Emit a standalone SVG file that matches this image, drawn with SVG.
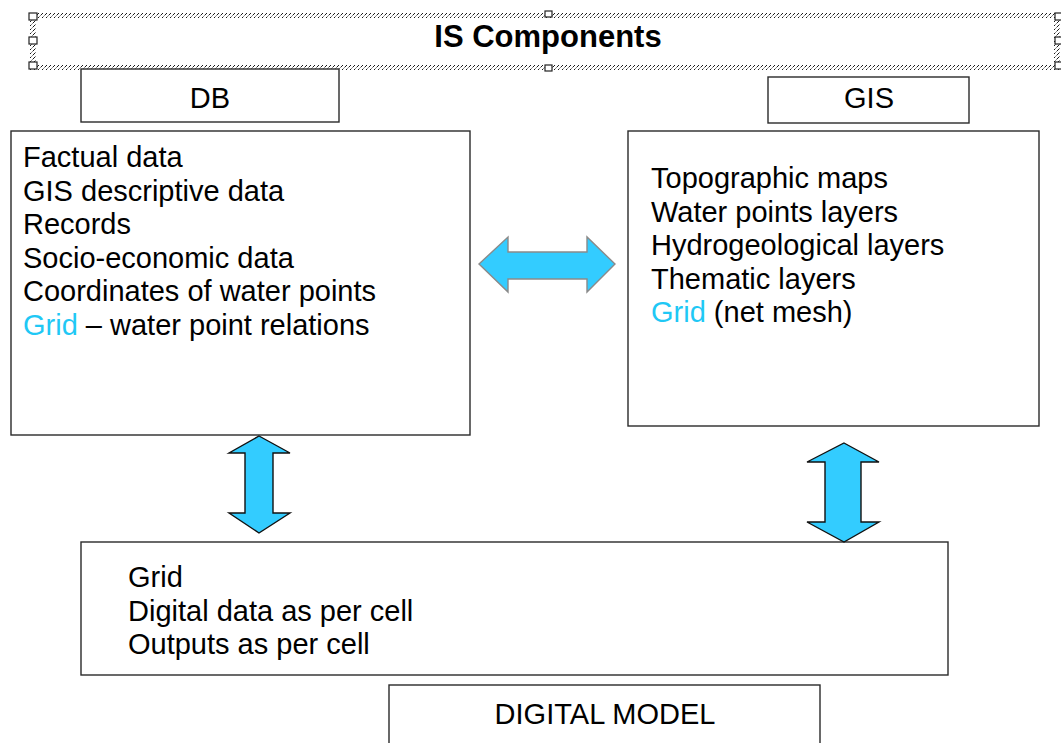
<svg xmlns="http://www.w3.org/2000/svg" width="1061" height="743" viewBox="0 0 1061 743">
  <style>
    .box { fill: #ffffff; stroke: #2a2a2a; stroke-width: 1.4; }
    .txt { font-family: "Liberation Sans", Arial, sans-serif; font-size: 29px; fill: #000000; }
    .title { font-family: "Liberation Sans", Arial, sans-serif; font-size: 31px; font-weight: bold; fill: #000000; }
    .hl { fill: #1fc8f5; }
    .handle { fill: #ffffff; stroke: #222222; stroke-width: 1.2; }
    .arrow-h { fill: #33ccff; stroke: #8a8a8a; stroke-width: 1.4; stroke-linejoin: miter; }
    .arrow-v { fill: #33ccff; stroke: #111111; stroke-width: 1.4; stroke-linejoin: miter; }
  </style>
  <defs>
    <!-- diagonal hatching used for the selected-frame border of the title -->
    <pattern id="hatch" width="4" height="4" patternUnits="userSpaceOnUse">
      <rect width="4" height="4" fill="#ffffff"/>
      <path d="M0.5,3.5 L3.5,0.5" stroke="#1a1a1a" stroke-width="1"/>
    </pattern>
  </defs>

  <rect width="1061" height="743" fill="#ffffff"/>

  <!-- Title frame -->
  <g id="title">
    <rect x="33" y="13" width="1024" height="5" fill="url(#hatch)"/>
    <rect x="33" y="65" width="1024" height="5" fill="url(#hatch)"/>
    <rect x="30" y="13" width="6" height="57" fill="url(#hatch)"/>
    <rect x="1054" y="13" width="6" height="57" fill="url(#hatch)"/>
    <rect class="handle" x="29" y="13" width="8" height="7"/>
    <rect class="handle" x="29" y="37" width="8" height="7"/>
    <rect class="handle" x="29" y="62" width="8" height="7"/>
    <rect class="handle" x="545" y="11" width="7" height="6"/>
    <rect class="handle" x="545" y="65" width="7" height="6"/>
    <rect class="handle" x="1055" y="13" width="7" height="7"/>
    <rect class="handle" x="1055" y="37" width="7" height="7"/>
    <rect class="handle" x="1055" y="62" width="7" height="7"/>
    <text class="title" x="548" y="47" text-anchor="middle">IS Components</text>
  </g>

  <!-- DB heading -->
  <g id="db-label">
    <rect class="box" x="81" y="69" width="258" height="53"/>
    <text class="txt" x="210" y="108" text-anchor="middle">DB</text>
  </g>

  <!-- GIS heading -->
  <g id="gis-label">
    <rect class="box" x="768" y="77" width="201" height="46"/>
    <text class="txt" x="869" y="108" text-anchor="middle">GIS</text>
  </g>

  <!-- DB contents -->
  <g id="db">
    <rect class="box" x="11" y="131" width="459" height="304"/>
    <text class="txt" x="23" y="167">Factual data</text>
    <text class="txt" x="23" y="200.5">GIS descriptive data</text>
    <text class="txt" x="23" y="234">Records</text>
    <text class="txt" x="23" y="267.5">Socio-economic data</text>
    <text class="txt" x="23" y="301">Coordinates of water points</text>
    <text class="txt" x="23" y="334.5"><tspan class="hl">Grid</tspan> – water point relations</text>
  </g>

  <!-- GIS contents -->
  <g id="gis">
    <rect class="box" x="628" y="131" width="411" height="295"/>
    <text class="txt" x="651" y="188">Topographic maps</text>
    <text class="txt" x="651" y="221.5">Water points layers</text>
    <text class="txt" x="651" y="255">Hydrogeological layers</text>
    <text class="txt" x="651" y="288.5">Thematic layers</text>
    <text class="txt" x="651" y="322"><tspan class="hl">Grid</tspan> (net mesh)</text>
  </g>

  <!-- Model contents -->
  <g id="model">
    <rect class="box" x="81" y="542" width="867" height="133"/>
    <text class="txt" x="128" y="587">Grid</text>
    <text class="txt" x="128" y="620.5">Digital data as per cell</text>
    <text class="txt" x="128" y="654">Outputs as per cell</text>
  </g>

  <!-- Model heading -->
  <g id="digital-model-label">
    <rect class="box" x="389" y="685" width="431" height="70"/>
    <text class="txt" x="605" y="724" text-anchor="middle">DIGITAL MODEL</text>
  </g>

  <!-- Two-way block arrows between the components -->
  <g id="connectors">
    <polygon class="arrow-h" points="479,264 508,237 508,252 587,252 587,237 615,264 587,292 587,279 508,279 508,292"/>
    <polygon class="arrow-v" points="259,436 290,453 273,453 273,513 290,513 259,533 229,513 245,513 245,453 229,453"/>
    <polygon class="arrow-v" points="844,443 879,462 861,462 861,522 879,522 844,542 807,522 825,522 825,462 807,462"/>
  </g>
</svg>
